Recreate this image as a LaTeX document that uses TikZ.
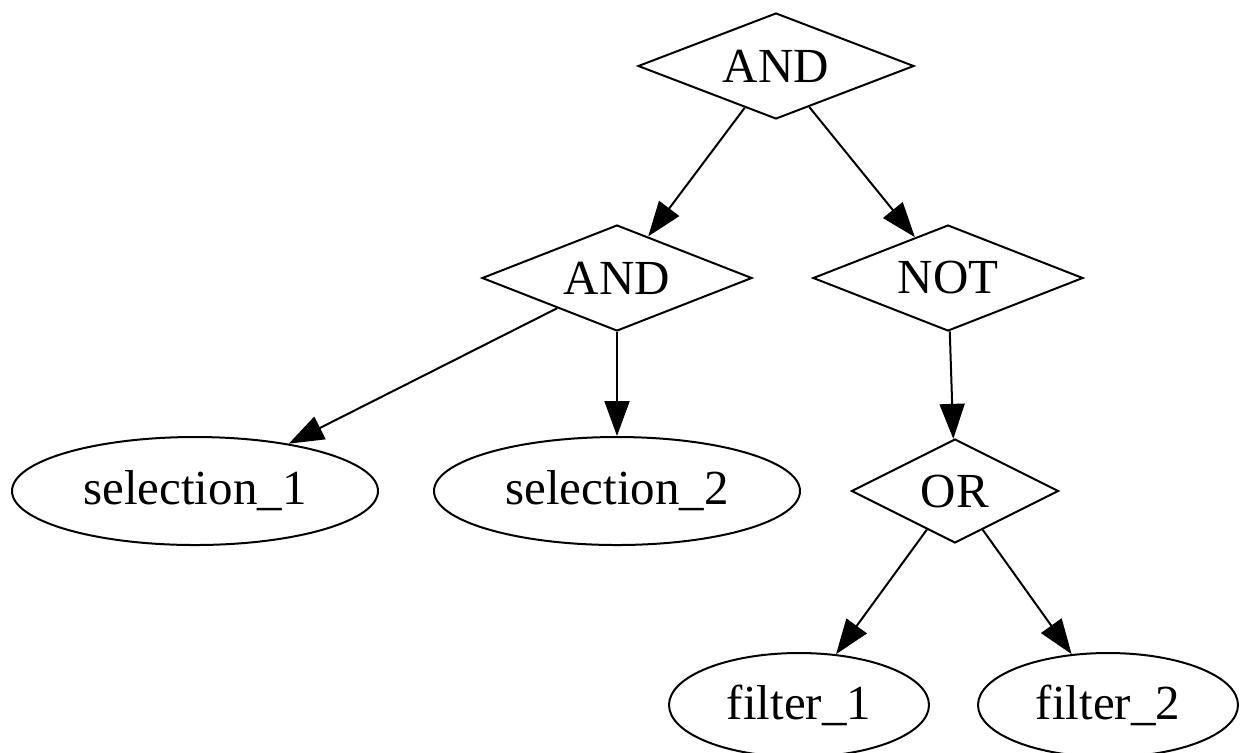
\documentclass[tikz,border=0pt]{standalone}
\usepackage{fontspec}
\setmainfont{Liberation Serif}
\usetikzlibrary{shapes.geometric,arrows.meta}
\begin{document}
\begin{tikzpicture}[x=0.25pt,y=-0.25pt,
  gate/.style={draw,diamond,shape aspect=2.5,line width=0.5pt,inner sep=0pt,minimum width=67.5pt,minimum height=26.5pt,font=\fontsize{12.25}{14}\selectfont},
  leaf/.style={draw,ellipse,line width=0.5pt,inner sep=0pt,minimum width=91.5pt,minimum height=27pt,font=\fontsize{12.25}{14}\selectfont},
  edge/.style={line width=0.5pt,-{Triangle[length=8.75pt,width=6.25pt]}}]
\useasboundingbox (0,0) rectangle (1240,752);
\clip (0,0) rectangle (1240,752);
\node[gate,minimum width=69pt] (and1) at (776,66) {AND};
\node[gate] (and2) at (617,278) {AND};
\node[gate] (not) at (948,278) {NOT};
\node[gate,minimum width=51.75pt,minimum height=26pt] (or) at (955,491) {OR};
\node[leaf] (s1) at (195,491) {selection\_1};
\node[leaf] (s2) at (617,491) {selection\_2};
\node[leaf,minimum width=65pt,minimum height=26pt] (f1) at (799,705) {filter\_1};
\node[leaf,minimum width=65pt,minimum height=26pt] (f2) at (1108,705) {filter\_2};
\draw[edge] (and1) -- (and2);
\draw[edge] (and1) -- (not);
\draw[edge] (and2) -- (s1);
\draw[edge] (and2) -- (s2);
\draw[edge] (not) -- (or);
\draw[edge] (or) -- (f1);
\draw[edge] (or) -- (f2);
\end{tikzpicture}
\end{document}
